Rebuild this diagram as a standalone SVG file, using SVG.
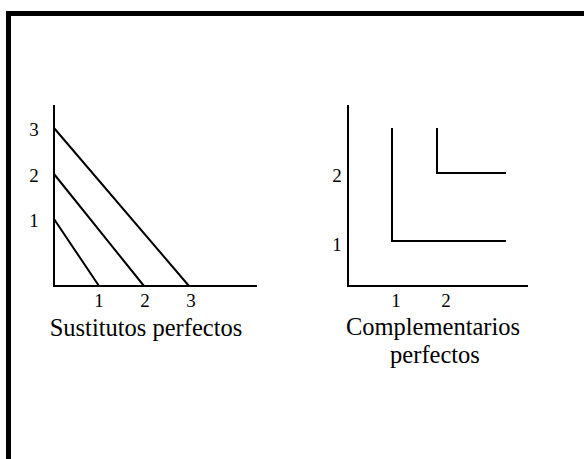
<svg xmlns="http://www.w3.org/2000/svg" width="584" height="459" viewBox="0 0 584 459">
<style>
.ln{stroke:#000;stroke-width:2;fill:none}
.num{font-family:"Liberation Serif","Times New Roman",serif;font-size:19px;fill:#000;text-anchor:middle}
.ttl{font-family:"Liberation Serif","Times New Roman",serif;font-size:24.5px;fill:#000;text-anchor:middle}
</style>
<rect x="0" y="0" width="584" height="459" fill="#fff"/>
<rect x="8.5" y="13.5" width="620" height="500" fill="none" stroke="#000" stroke-width="5"/>
<g id="sustitutos">
<path class="ln" d="M54,105 V286 H257"/>
<path class="ln" d="M54,128 L189,286 M54,174 L144,286 M54,219 L99,286"/>
<text class="num" x="34" y="136">3</text>
<text class="num" x="34" y="182">2</text>
<text class="num" x="34" y="227">1</text>
<text class="num" x="99" y="307">1</text>
<text class="num" x="145" y="307">2</text>
<text class="num" x="191" y="307">3</text>
<text class="ttl" x="146" y="336">Sustitutos perfectos</text>
</g>
<g id="complementarios">
<path class="ln" d="M348,105 V286 H528"/>
<path class="ln" d="M392,128 V241 H506 M437,128 V173 H506"/>
<text class="num" x="337" y="182">2</text>
<text class="num" x="337" y="251">1</text>
<text class="num" x="396" y="307">1</text>
<text class="num" x="446" y="307">2</text>
<text class="ttl" x="433" y="335">Complementarios</text>
<text class="ttl" x="435" y="363">perfectos</text>
</g>
</svg>
